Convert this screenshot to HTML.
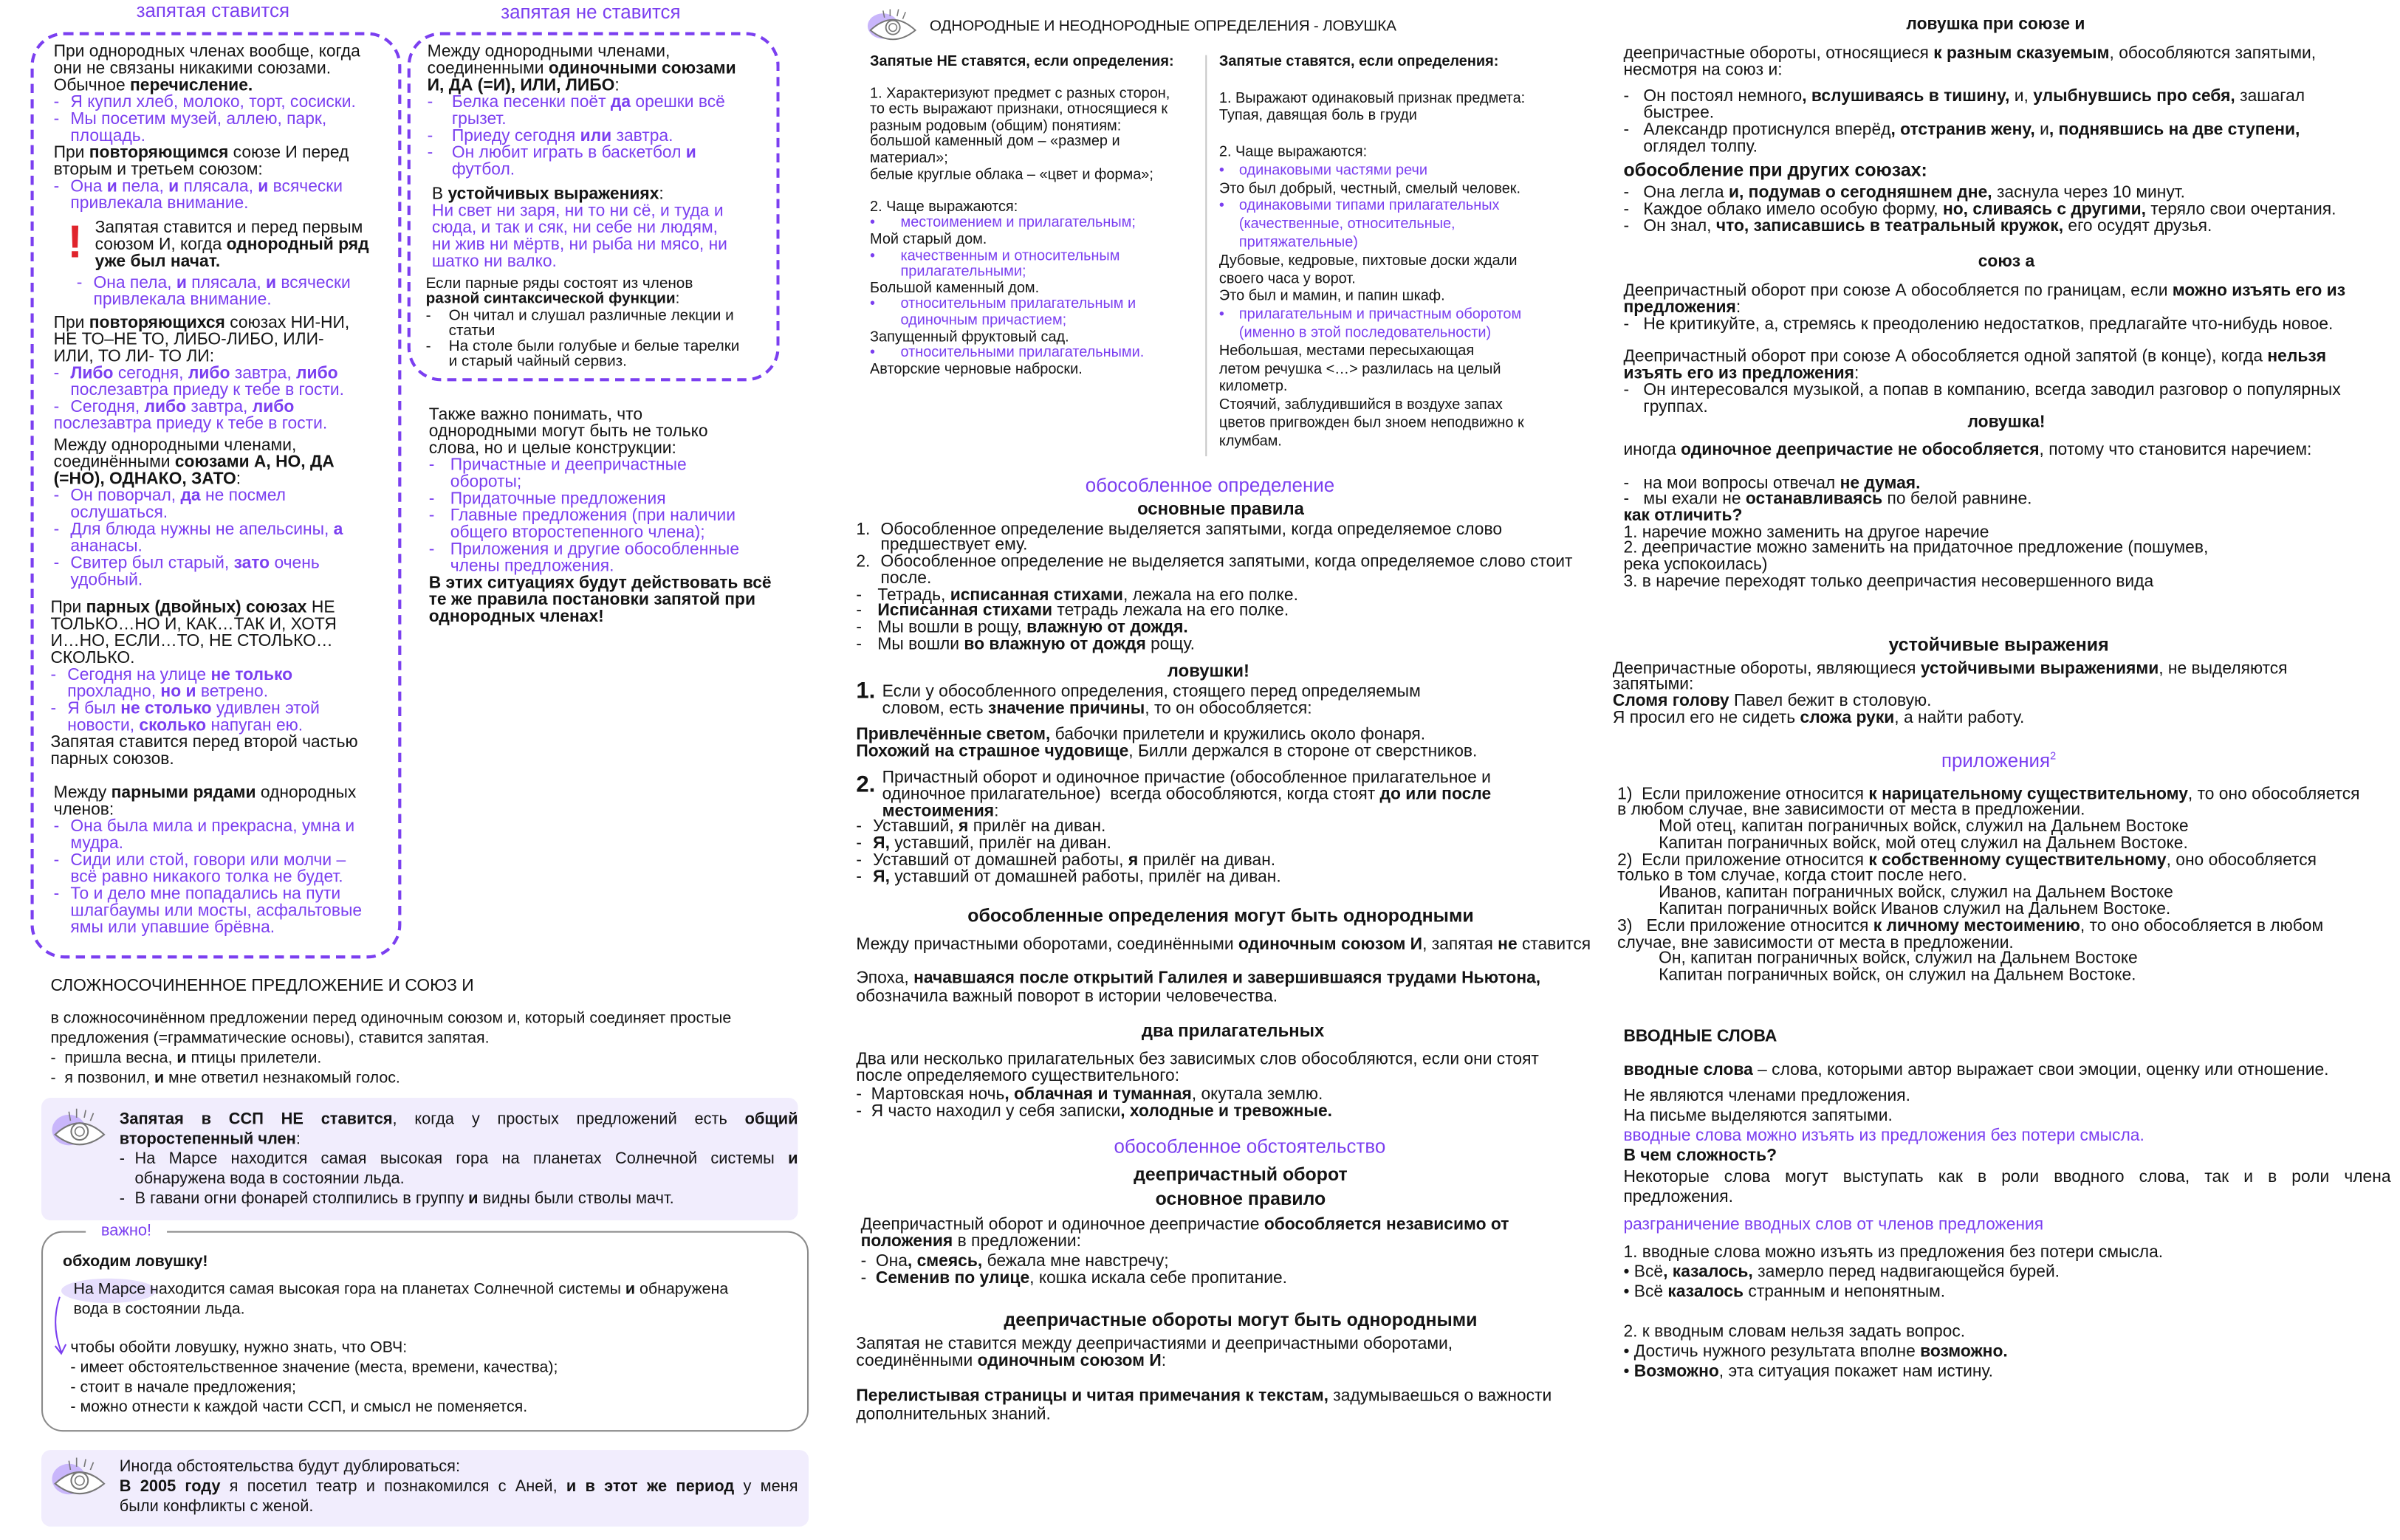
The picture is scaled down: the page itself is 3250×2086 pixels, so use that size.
<!DOCTYPE html>
<html><head><meta charset="utf-8">
<style>
html,body{margin:0;padding:0;background:#fff;width:3250px;height:2086px;overflow:hidden}
#c{position:absolute;left:0;top:0;width:1568px;height:1006px;transform:scale(2.074);transform-origin:0 0;font-family:"Liberation Sans","DejaVu Sans",sans-serif;color:#141414}
.t{position:absolute;white-space:nowrap;font-size:11px;line-height:11px}
.p{color:#7b3ff0}
.li{padding-left:11px;text-indent:-11px}
.d{display:inline-block;width:11px;text-indent:0}
.ttl{position:absolute;color:#7b3ff0;font-size:12.5px;white-space:nowrap}
.box{position:absolute;border:2px dashed #7b3ff0;border-radius:22px;box-sizing:border-box}
.c{transform:translateX(-50%);font-weight:bold}
.s{font-size:9.6px;line-height:11.6px}
.m{font-size:11px;line-height:11px}
.j{text-align:justify;text-align-last:justify;white-space:normal}
</style></head><body><div id="c">

<div class="ttl" style="left:89px;top:0px">запятая ставится</div>
<div class="ttl" style="left:327px;top:1px">запятая не ставится</div>
<div class="box" style="left:20px;top:21px;width:242px;height:605px"></div>
<div class="box" style="left:266px;top:21px;width:243px;height:228px"></div>

<div class="t" style="left:35px;top:28.5px">При однородных членах вообще, когда<br>они не связаны никакими союзами.<br>Обычное <b>перечисление.</b>
<div class="li p"><span class="d">-</span>Я купил хлеб, молоко, торт, сосиски.</div>
<div class="li p"><span class="d">-</span>Мы посетим музей, аллею, парк,<br>площадь.</div>
При <b>повторяющимся</b> союзе И перед<br>вторым и третьем союзом:
<div class="li p"><span class="d">-</span>Она <b>и</b> пела, <b>и</b> плясала, <b>и</b> всячески<br>привлекала внимание.</div></div>
<div class="t" style="left:44px;top:144px;color:#e0242c;font-size:30px;line-height:30px;font-weight:bold">!</div>
<div class="t" style="left:62px;top:143.5px">Запятая ставится и перед первым<br>союзом И, когда <b>однородный ряд<br>уже был начат.</b></div>
<div class="t p" style="left:50px;top:179.5px"><div class="li"><span class="d">-</span>Она пела, <b>и</b> плясала, <b>и</b> всячески<br>привлекала внимание.</div></div>
<div class="t" style="left:35px;top:205.5px">При <b>повторяющихся</b> союзах НИ-НИ,<br>НЕ ТО–НЕ ТО, ЛИБО-ЛИБО, ИЛИ-<br>ИЛИ, ТО ЛИ- ТО ЛИ:
<div class="li p"><span class="d">-</span><b>Либо</b> сегодня, <b>либо</b> завтра, <b>либо</b><br>послезавтра приеду к тебе в гости.</div>
<div class="p"><span class="d">-</span>Сегодня, <b>либо</b> завтра, <b>либо</b><br>послезавтра приеду к тебе в гости.</div></div>
<div class="t" style="left:35px;top:286px">Между однородными членами,<br>соединёнными <b>союзами А, НО, ДА<br>(=НО), ОДНАКО, ЗАТО</b>:
<div class="li p"><span class="d">-</span>Он поворчал, <b>да</b> не посмел<br>ослушаться.</div>
<div class="li p"><span class="d">-</span>Для блюда нужны не апельсины, <b>а</b><br>ананасы.</div>
<div class="li p"><span class="d">-</span>Свитер был старый, <b>зато</b> очень<br>удобный.</div></div>
<div class="t" style="left:33px;top:391.5px">При <b>парных (двойных) союзах</b> НЕ<br>ТОЛЬКО…НО И, КАК…ТАК И, ХОТЯ<br>И…НО, ЕСЛИ…ТО, НЕ СТОЛЬКО…<br>СКОЛЬКО.
<div class="li p"><span class="d">-</span>Сегодня на улице <b>не только</b><br>прохладно, <b>но и</b> ветрено.</div>
<div class="li p"><span class="d">-</span>Я был <b>не столько</b> удивлен этой<br>новости, <b>сколько</b> напуган ею.</div>
Запятая ставится перед второй частью<br>парных союзов.</div>
<div class="t" style="left:35px;top:512.5px">Между <b>парными рядами</b> однородных<br>членов:
<div class="li p"><span class="d">-</span>Она была мила и прекрасна, умна и<br>мудра.</div>
<div class="li p"><span class="d">-</span>Сиди или стой, говори или молчи –<br>всё равно никакого толка не будет.</div>
<div class="li p"><span class="d">-</span>То и дело мне попадались на пути<br>шлагбаумы или мосты, асфальтовые<br>ямы или упавшие брёвна.</div></div>

<div class="t" style="left:279px;top:28.5px">Между однородными членами,<br>соединенными <b>одиночными союзами<br>И, ДА (=И), ИЛИ, ЛИБО</b>:
<div class="li p" style="padding-left:16px;text-indent:-16px"><span class="d" style="width:16px">-</span>Белка песенки поёт <b>да</b> орешки всё<br>грызет.</div>
<div class="li p" style="padding-left:16px;text-indent:-16px"><span class="d" style="width:16px">-</span>Приеду сегодня <b>или</b> завтра.</div>
<div class="li p" style="padding-left:16px;text-indent:-16px"><span class="d" style="width:16px">-</span>Он любит играть в баскетбол <b>и</b><br>футбол.</div></div>
<div class="t" style="left:282px;top:121.5px">В <b>устойчивых выражениях</b>:<br><span class="p">Ни свет ни заря, ни то ни сё, и туда и<br>сюда, и так и сяк, ни себе ни людям,<br>ни жив ни мёртв, ни рыба ни мясо, ни<br>шатко ни валко.</span></div>
<div class="t" style="left:278px;top:181px;font-size:10px;line-height:10.3px">Если парные ряды состоят из членов<br><b>разной синтаксической функции</b>:
<div class="li" style="padding-left:15px;text-indent:-15px"><span class="d" style="width:15px">-</span>Он читал и слушал различные лекции и<br>статьи</div>
<div class="li" style="padding-left:15px;text-indent:-15px"><span class="d" style="width:15px">-</span>На столе были голубые и белые тарелки<br>и старый чайный сервиз.</div></div>
<div class="t" style="left:280px;top:265.5px">Также важно понимать, что<br>однородными могут быть не только<br>слова, но и целые конструкции:
<div class="li p" style="padding-left:14px;text-indent:-14px"><span class="d" style="width:14px">-</span>Причастные и деепричастные<br>обороты;</div>
<div class="li p" style="padding-left:14px;text-indent:-14px"><span class="d" style="width:14px">-</span>Придаточные предложения</div>
<div class="li p" style="padding-left:14px;text-indent:-14px"><span class="d" style="width:14px">-</span>Главные предложения (при наличии<br>общего второстепенного члена);</div>
<div class="li p" style="padding-left:14px;text-indent:-14px"><span class="d" style="width:14px">-</span>Приложения и другие обособленные<br>члены предложения.</div>
<b>В этих ситуациях будут действовать всё<br>те же правила постановки запятой при<br>однородных членах!</b></div>

<div class="t" style="left:33px;top:639px;font-size:11px">СЛОЖНОСОЧИНЕННОЕ ПРЕДЛОЖЕНИЕ И СОЮЗ И</div>
<div class="t" style="left:33px;top:659px;font-size:10.3px;line-height:13px">в сложносочинённом предложении перед одиночным союзом и, который соединяет простые<br>предложения (=грамматические основы), ставится запятая.<br>-&nbsp; пришла весна, <b>и</b> птицы прилетели.<br>-&nbsp; я позвонил, <b>и</b> мне ответил незнакомый голос.</div>

<div style="position:absolute;left:27px;top:717px;width:494px;height:80px;background:#f1edfd;border-radius:6px"></div>
<svg style="position:absolute;left:33px;top:724px" width="38" height="28" viewBox="0 0 38 28"><ellipse cx="12" cy="14" rx="11" ry="10" fill="#c9b6fb"/><path d="M3 17 Q19 2 35 17 Q19 30 3 17Z" fill="#fff" stroke="#777" stroke-width="1"/><circle cx="19" cy="15" r="5.5" fill="none" stroke="#777" stroke-width="1"/><circle cx="19" cy="15" r="3" fill="none" stroke="#777" stroke-width="0.8"/><path d="M13 8 L12 2 M17 6 L17 0 M22 6 L23 1 M26 8 L28 3" stroke="#777" stroke-width="0.8"/></svg>
<div class="t" style="left:78px;top:724.5px;font-size:10.5px;line-height:13px;width:443px">
<div class="j"><b>Запятая в ССП НЕ ставится</b>, когда у простых предложений есть <b>общий</b></div>
<b>второстепенный член</b>:
<div style="padding-left:10px"><div class="j"><span style="margin-left:-10px;display:inline-block;width:10px">-</span>На Марсе находится самая высокая гора на планетах Солнечной системы <b>и</b></div>обнаружена вода в состоянии льда.</div>
<div style="padding-left:10px;text-indent:-10px"><span class="d" style="width:10px">-</span>В гавани огни фонарей столпились в группу <b>и</b> видны были стволы мачт.</div></div>

<div style="position:absolute;left:27px;top:804px;width:501px;height:131px;border:1px solid #8a8a8a;border-radius:14px;box-sizing:border-box"></div>
<div class="t p" style="left:56px;top:797px;background:#fff;padding:0 10px;font-size:10.5px;line-height:14px">важно!</div>
<div class="t" style="left:41px;top:819px;font-size:10.3px;font-weight:bold">обходим ловушку!</div>
<div style="position:absolute;left:40px;top:835px;width:62px;height:16px;border-radius:50%;background:#e6defc"></div>
<div class="t" style="left:48px;top:837px;font-size:10.3px;line-height:12.5px">На Марсе находится самая высокая гора на планетах Солнечной системы <b>и</b> обнаружена<br>вода в состоянии льда.</div>
<svg style="position:absolute;left:33px;top:845px" width="14" height="44" viewBox="0 0 14 44"><path d="M6 2 Q0 20 7 38" fill="none" stroke="#7b3ff0" stroke-width="1"/><path d="M3 34 L7 39 L10 33" fill="none" stroke="#7b3ff0" stroke-width="1"/></svg>
<div class="t" style="left:46px;top:873.5px;font-size:10.3px;line-height:13px">чтобы обойти ловушку, нужно знать, что ОВЧ:<br>- имеет обстоятельственное значение (места, времени, качества);<br>- стоит в начале предложения;<br>- можно отнести к каждой части ССП, и смысл не поменяется.</div>

<div style="position:absolute;left:27px;top:947px;width:501px;height:50px;background:#f1edfd;border-radius:6px"></div>
<svg style="position:absolute;left:33px;top:952px" width="38" height="28" viewBox="0 0 38 28"><ellipse cx="12" cy="14" rx="11" ry="10" fill="#c9b6fb"/><path d="M3 17 Q19 2 35 17 Q19 30 3 17Z" fill="#fff" stroke="#777" stroke-width="1"/><circle cx="19" cy="15" r="5.5" fill="none" stroke="#777" stroke-width="1"/><circle cx="19" cy="15" r="3" fill="none" stroke="#777" stroke-width="0.8"/><path d="M13 8 L12 2 M17 6 L17 0 M22 6 L23 1 M26 8 L28 3" stroke="#777" stroke-width="0.8"/></svg>
<div class="t" style="left:78px;top:951.5px;font-size:10.5px;line-height:13px;width:443px">Иногда обстоятельства будут дублироваться:<div class="j"><b>В 2005 году</b> я посетил театр и познакомился с Аней, <b>и в этот же период</b> у меня</div>были конфликты с женой.</div>

<svg style="position:absolute;left:565px;top:6px" width="36" height="22" viewBox="0 0 38 24"><ellipse cx="12" cy="12" rx="11" ry="9" fill="#c9b6fb"/><path d="M3 15 Q19 0 35 15 Q19 28 3 15Z" fill="#fff" stroke="#777" stroke-width="1"/><circle cx="19" cy="13" r="5" fill="none" stroke="#777" stroke-width="1"/><circle cx="19" cy="13" r="2.8" fill="none" stroke="#777" stroke-width="0.8"/><path d="M13 6 L12 1 M17 5 L17 0 M22 5 L23 0 M26 7 L28 2" stroke="#777" stroke-width="0.8"/></svg>
<div class="t" style="left:607px;top:12px;font-size:10px;letter-spacing:-0.1px">ОДНОРОДНЫЕ И НЕОДНОРОДНЫЕ ОПРЕДЕЛЕНИЯ - ЛОВУШКА</div>
<div style="position:absolute;left:787px;top:36px;width:1px;height:262px;background:#c8c8c8"></div>
<div class="t s" style="left:568px;top:35.5px;line-height:10.6px"><b>Запятые НЕ ставятся, если определения:</b><br><br>1. Характеризуют предмет с разных сторон,<br>то есть выражают признаки, относящиеся к<br>разным родовым (общим) понятиям:<br>большой каменный дом – «размер и<br>материал»;<br>белые круглые облака – «цвет и форма»;<br><br>2. Чаще выражаются:
<div class="p"><span class="d" style="width:20px">•</span>местоимением и прилагательным;</div>Мой старый дом.
<div class="p" style="padding-left:20px;text-indent:-20px"><span class="d" style="width:20px">•</span>качественным и относительным<br>прилагательными;</div>Большой каменный дом.
<div class="p" style="padding-left:20px;text-indent:-20px"><span class="d" style="width:20px">•</span>относительным прилагательным и<br>одиночным причастием;</div>Запущенный фруктовый сад.
<div class="p"><span class="d" style="width:20px">•</span>относительными прилагательными.</div>Авторские черновые наброски.</div>
<div class="t s" style="left:796px;top:35px;line-height:11.8px"><b>Запятые ставятся, если определения:</b><br><br>1. Выражают одинаковый признак предмета:<br>Тупая, давящая боль в груди<br><br>2. Чаще выражаются:
<div class="p"><span class="d" style="width:13px">•</span>одинаковыми частями речи</div>Это был добрый, честный, смелый человек.
<div class="p" style="padding-left:13px;text-indent:-13px"><span class="d" style="width:13px">•</span>одинаковыми типами прилагательных<br>(качественные, относительные,<br>притяжательные)</div>Дубовые, кедровые, пихтовые доски ждали<br>своего часа у ворот.<br>Это был и мамин, и папин шкаф.
<div class="p" style="padding-left:13px;text-indent:-13px"><span class="d" style="width:13px">•</span>прилагательным и причастным оборотом<br>(именно в этой последовательности)</div>Небольшая, местами пересыхающая<br>летом речушка &lt;…&gt; разлилась на целый<br>километр.<br>Стоячий, заблудившийся в воздухе запах<br>цветов пригвожден был зноем неподвижно к<br>клумбам.</div>

<div class="ttl" style="left:790px;top:310px;transform:translateX(-50%)">обособленное определение</div>
<div class="t c" style="left:797px;top:328px;font-size:11.5px">основные правила</div>
<div class="t m" style="left:559px;top:340.5px;line-height:10.8px">
<div style="padding-left:16px;text-indent:-16px"><span class="d" style="width:16px">1.</span>Обособленное определение выделяется запятыми, когда определяемое слово<br>предшествует ему.</div>
<div style="padding-left:16px;text-indent:-16px"><span class="d" style="width:16px">2.</span>Обособленное определение не выделяется запятыми, когда определяемое слово стоит<br>после.</div>
<div style="padding-left:14px;text-indent:-14px"><span class="d" style="width:14px">-</span>Тетрадь, <b>исписанная стихами</b>, лежала на его полке.</div>
<div style="padding-left:14px;text-indent:-14px"><span class="d" style="width:14px">-</span><b>Исписанная стихами</b> тетрадь лежала на его полке.</div>
<div style="padding-left:14px;text-indent:-14px"><span class="d" style="width:14px">-</span>Мы вошли в рощу, <b>влажную от дождя.</b></div>
<div style="padding-left:14px;text-indent:-14px"><span class="d" style="width:14px">-</span>Мы вошли <b>во влажную от дождя</b> рощу.</div></div>
<div class="t c" style="left:789px;top:434px;font-size:11.5px">ловушки!</div>
<div class="t" style="left:559px;top:444px;font-size:15px;line-height:16px;font-weight:bold">1.</div>
<div class="t m" style="left:576px;top:446.5px">Если у обособленного определения, стоящего перед определяемым<br>словом, есть <b>значение причины</b>, то он обособляется:</div>
<div class="t m" style="left:559px;top:474.5px"><b>Привлечённые светом,</b> бабочки прилетели и кружились около фонаря.<br><b>Похожий на страшное чудовище</b>, Билли держался в стороне от сверстников.</div>
<div class="t" style="left:559px;top:505px;font-size:15px;line-height:16px;font-weight:bold">2.</div>
<div class="t m" style="left:576px;top:502.5px">Причастный оборот и одиночное причастие (обособленное прилагательное и<br>одиночное прилагательное)&nbsp; всегда обособляются, когда стоят <b>до или после<br>местоимения</b>:</div>
<div class="t m" style="left:559px;top:534.5px">
<div><span class="d" style="width:11px">-</span>Уставший, <b>я</b> прилёг на диван.</div>
<div><span class="d" style="width:11px">-</span><b>Я,</b> уставший, прилёг на диван.</div>
<div><span class="d" style="width:11px">-</span>Уставший от домашней работы, <b>я</b> прилёг на диван.</div>
<div><span class="d" style="width:11px">-</span><b>Я,</b> уставший от домашней работы, прилёг на диван.</div></div>
<div class="t c" style="left:797px;top:591px;font-size:12px;line-height:14px">обособленные определения могут быть однородными</div>
<div style="position:absolute;left:559px;top:609px;width:490px;height:16px;overflow:hidden"><div class="t m" style="left:0;top:3px">Между причастными оборотами, соединёнными <b>одиночным союзом И</b>, запятая <b>не</b> ставится</div></div>
<div class="t m" style="left:559px;top:632.5px;line-height:12px">Эпоха, <b>начавшаяся после открытий Галилея и завершившаяся трудами Ньютона,</b><br>обозначила важный поворот в истории человечества.</div>
<div class="t c" style="left:805px;top:667px;font-size:11.5px;line-height:14px">два прилагательных</div>
<div class="t m" style="left:559px;top:686.5px;line-height:11.5px">Два или несколько прилагательных без зависимых слов обособляются, если они стоят<br>после определяемого существительного:<br>-&nbsp; Мартовская ночь<b>, облачная и туманная</b>, окутала землю.<br>-&nbsp; Я часто находил у себя записки<b>, холодные и тревожные.</b></div>
<div class="ttl" style="left:816px;top:742px;transform:translateX(-50%)">обособленное обстоятельство</div>
<div class="t c" style="left:810px;top:760px;font-size:12px;line-height:14px">деепричастный оборот</div>
<div class="t c" style="left:810px;top:776px;font-size:12px;line-height:14px">основное правило</div>
<div class="t m" style="left:562px;top:794.5px;line-height:11.5px">Деепричастный оборот и одиночное деепричастие <b>обособляется независимо от<br>положения</b> в предложении:</div>
<div class="t m" style="left:562px;top:818.5px;line-height:11.5px">-&nbsp; Она<b>, смеясь,</b> бежала мне навстречу;<br>-&nbsp; <b>Семенив по улице</b>, кошка искала себе пропитание.</div>
<div class="t c" style="left:810px;top:855px;font-size:12px;line-height:14px">деепричастные обороты могут быть однородными</div>
<div class="t m" style="left:559px;top:872.5px;line-height:11.5px">Запятая не ставится между деепричастиями и деепричастными оборотами,<br>соединёнными <b>одиночным союзом И</b>:<br><br><b>Перелистывая страницы и читая примечания к текстам,</b> задумываешься о важности<br>дополнительных знаний.</div>

<div class="t c" style="left:1303px;top:11px">ловушка при союзе и</div>
<div class="t" style="left:1060px;top:29.5px">деепричастные обороты, относящиеся <b>к разным сказуемым</b>, обособляются запятыми,<br>несмотря на союз и:</div>
<div class="t" style="left:1060px;top:57.5px">
<div class="li" style="padding-left:13px;text-indent:-13px"><span class="d" style="width:13px">-</span>Он постоял немного<b>, вслушиваясь в тишину,</b> и, <b>улыбнувшись про себя,</b> зашагал<br>быстрее.</div>
<div class="li" style="padding-left:13px;text-indent:-13px"><span class="d" style="width:13px">-</span>Александр протиснулся вперёд<b>, отстранив жену,</b> и<b>, поднявшись на две ступени,</b><br>оглядел толпу.</div></div>
<div class="t" style="left:1060px;top:104px;font-size:12px;line-height:14px;font-weight:bold">обособление при других союзах:</div>
<div class="t" style="left:1060px;top:120.5px">
<div><span class="d" style="width:13px">-</span>Она легла <b>и, подумав о сегодняшнем дне,</b> заснула через 10 минут.</div>
<div><span class="d" style="width:13px">-</span>Каждое облако имело особую форму, <b>но, сливаясь с другими,</b> теряло свои очертания.</div>
<div><span class="d" style="width:13px">-</span>Он знал, <b>что, записавшись в театральный кружок,</b> его осудят друзья.</div></div>
<div class="t c" style="left:1310px;top:166px">союз а</div>
<div class="t" style="left:1060px;top:184.5px">Деепричастный оборот при союзе А обособляется по границам, если <b>можно изъять его из<br>предложения</b>:<br><span class="d" style="width:13px">-</span>Не критикуйте, а, стремясь к преодолению недостатков, предлагайте что-нибудь новое.</div>
<div class="t" style="left:1060px;top:227.5px">Деепричастный оборот при союзе А обособляется одной запятой (в конце), когда <b>нельзя<br>изъять его из предложения</b>:
<div class="li" style="padding-left:13px;text-indent:-13px"><span class="d" style="width:13px">-</span>Он интересовался музыкой, а попав в компанию, всегда заводил разговор о популярных<br>группах.</div></div>
<div class="t c" style="left:1310px;top:271px">ловушка!</div>
<div class="t" style="left:1060px;top:288.5px">иногда <b>одиночное деепричастие не обособляется</b>, потому что становится наречием:</div>
<div class="t" style="left:1060px;top:310.5px;line-height:10.7px"><span class="d" style="width:13px">-</span>на мои вопросы отвечал <b>не думая.</b><br><span class="d" style="width:13px">-</span>мы ехали не <b>останавливаясь</b> по белой равнине.<br><b>как отличить?</b><br>1. наречие можно заменить на другое наречие<br>2. деепричастие можно заменить на придаточное предложение (пошумев,<br>река успокоилась)<br>3. в наречие переходят только деепричастия несовершенного вида</div>
<div class="t c" style="left:1305px;top:414px;font-size:12px;line-height:14px">устойчивые выражения</div>
<div class="t" style="left:1053px;top:431.5px;line-height:10.8px">Деепричастные обороты, являющиеся <b>устойчивыми выражениями</b>, не выделяются<br>запятыми:<br><b>Сломя голову</b> Павел бежит в столовую.<br>Я просил его не сидеть <b>сложа руки</b>, а найти работу.</div>
<div class="ttl" style="left:1305px;top:490px;transform:translateX(-50%)">приложения<sup style="font-size:7px">2</sup></div>
<div class="t" style="left:1056px;top:513.5px;line-height:10.8px">1)&nbsp; Если приложение относится <b>к нарицательному существительному</b>, то оно обособляется<br>в любом случае, вне зависимости от места в предложении.<br><span style="padding-left:27px">Мой отец, капитан пограничных войск, служил на Дальнем Востоке</span><br><span style="padding-left:27px">Капитан пограничных войск, мой отец служил на Дальнем Востоке.</span><br>2)&nbsp; Если приложение относится <b>к собственному существительному</b>, оно обособляется<br>только в том случае, когда стоит после него.<br><span style="padding-left:27px">Иванов, капитан пограничных войск, служил на Дальнем Востоке</span><br><span style="padding-left:27px">Капитан пограничных войск Иванов служил на Дальнем Востоке.</span><br>3)&nbsp;&nbsp; Если приложение относится <b>к личному местоимению</b>, то оно обособляется в любом<br>случае, вне зависимости от места в предложении.<br><span style="padding-left:27px">Он, капитан пограничных войск, служил на Дальнем Востоке</span><br><span style="padding-left:27px">Капитан пограничных войск, он служил на Дальнем Востоке.</span></div>
<div class="t" style="left:1060px;top:672px;font-weight:bold">ВВОДНЫЕ СЛОВА</div>
<div class="t" style="left:1060px;top:693.5px"><b>вводные слова</b> – слова, которыми автор выражает свои эмоции, оценку или отношение.</div>
<div class="t" style="left:1060px;top:710px;line-height:13px">Не являются членами предложения.<br>На письме выделяются запятыми.<br><span class="p">вводные слова можно изъять из предложения без потери смысла.</span><br><b>В чем сложность?</b></div>
<div class="t" style="left:1060px;top:763px;line-height:12.5px;width:501px"><div class="j">Некоторые слова могут выступать как в роли вводного слова, так и в роли члена</div>предложения.</div>
<div class="t p" style="left:1060px;top:794.5px">разграничение вводных слов от членов предложения</div>
<div class="t" style="left:1060px;top:812px;line-height:13px">1. вводные слова можно изъять из предложения без потери смысла.<br>• Всё<b>, казалось,</b> замерло перед надвигающейся бурей.<br>• Всё <b>казалось</b> странным и непонятным.<br><br>2. к вводным словам нельзя задать вопрос.<br>• Достичь нужного результата вполне <b>возможно.</b><br>• <b>Возможно</b>, эта ситуация покажет нам истину.</div>

</div></body></html>
